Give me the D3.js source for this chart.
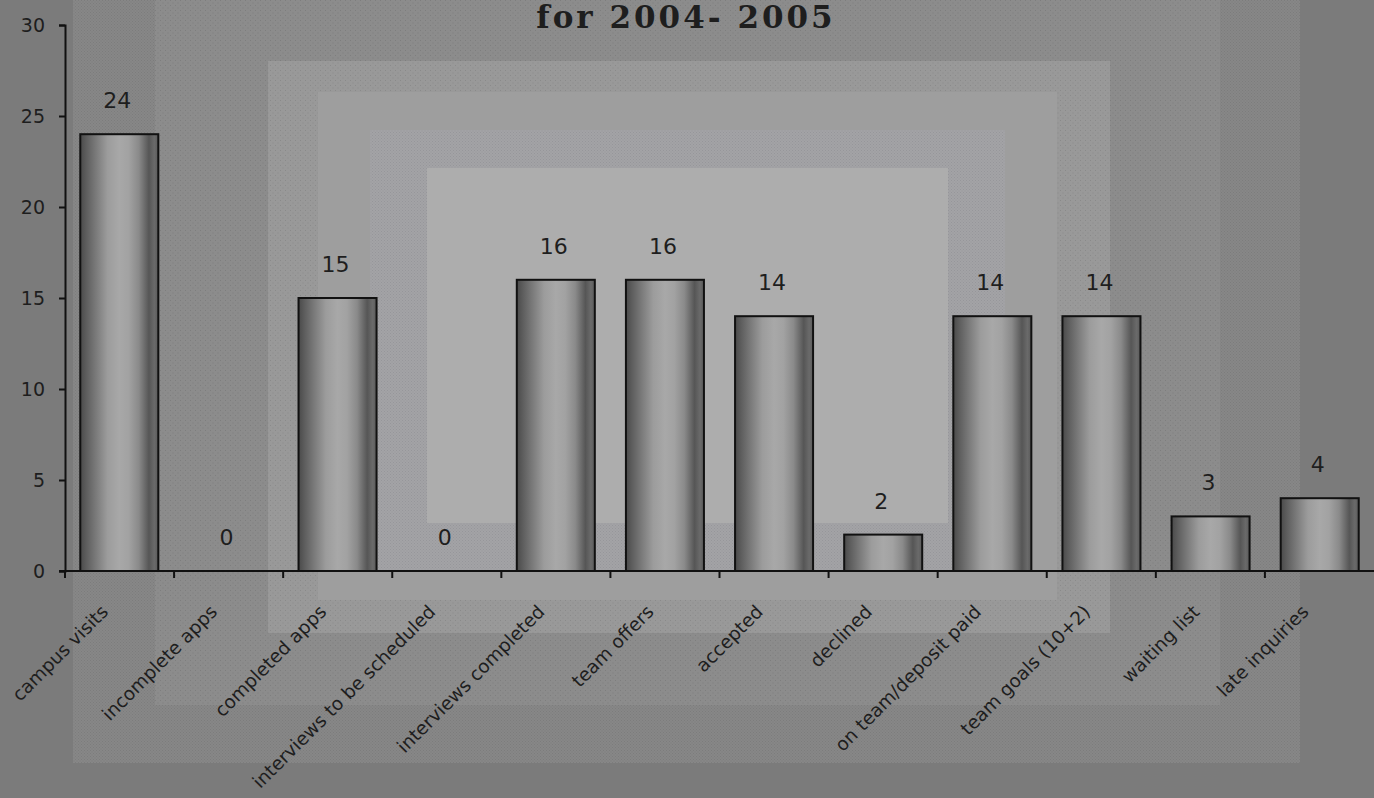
<!DOCTYPE html>
<html>
<head>
<meta charset="utf-8">
<script src="https://cdn.jsdelivr.net/npm/d3@7"></script>
<style>
  body { margin: 0; background: #7b7b7b; }
  svg { display: block; }
  text { font-family: "DejaVu Sans", sans-serif; fill: #1e1e1e; }
</style>
</head>
<body>
<div id="chart"></div>
<script>
// chart data
var categories = ["campus visits", "incomplete apps", "completed apps", "interviews to be scheduled",
  "interviews completed", "team offers", "accepted", "declined", "on team/deposit paid",
  "team goals (10+2)", "waiting list", "late inquiries"];
var values = [24, 0, 15, 0, 16, 16, 14, 2, 14, 14, 3, 4];
var yTicks = [0, 5, 10, 15, 20, 25, 30];
var title = "for 2004- 2005";

var width = 1374, height = 798;
var margin = {top: 25, left: 65, bottom: 227, right: 0};

var svg = d3.select("#chart").append("svg")
  .attr("width", width)
  .attr("height", height);

var defs = svg.append("defs");

// dotted textures for the background frames
function dots(id, bg, dot, size) {
  var p = defs.append("pattern").attr("id", id)
    .attr("width", size).attr("height", size)
    .attr("patternUnits", "userSpaceOnUse");
  p.append("rect").attr("width", size).attr("height", size).attr("fill", bg);
  p.append("rect").attr("x", 0).attr("y", 0).attr("width", 1).attr("height", 1).attr("fill", dot);
  p.append("rect").attr("x", size / 2).attr("y", size / 2).attr("width", 1).attr("height", 1).attr("fill", dot);
}
dots("t1", "#878787", "#7c7c7c", 3);
dots("t2", "#8c8c8c", "#7e7e7e", 5);
dots("t3", "#999999", "#8a8a8a", 5);
dots("t5", "#a3a3a6", "#96969a", 3);

var frames = [
  {x: 73, y: 0, w: 1227, h: 763, fill: "url(#t1)"},
  {x: 155, y: 0, w: 1065, h: 705, fill: "url(#t2)"},
  {x: 268, y: 61, w: 842, h: 572, fill: "url(#t3)"},
  {x: 318, y: 92, w: 739, h: 508, fill: "#9e9e9e"},
  {x: 370, y: 130, w: 635, h: 442, fill: "url(#t5)"},
  {x: 427, y: 168, w: 521, h: 355, fill: "#adadad"}
];
svg.selectAll("rect.frame").data(frames).enter().append("rect")
  .attr("class", "frame")
  .attr("x", function(d) { return d.x; })
  .attr("y", function(d) { return d.y; })
  .attr("width", function(d) { return d.w; })
  .attr("height", function(d) { return d.h; })
  .attr("fill", function(d) { return d.fill; });

// cylinder look for the bars
var grad = defs.append("linearGradient").attr("id", "cyl")
  .attr("x1", "0%").attr("x2", "100%").attr("y1", "0%").attr("y2", "0%");
[[0, "#4a4a4a"], [0.08, "#5e5e5e"], [0.2, "#7a7a7a"], [0.35, "#9c9c9c"], [0.5, "#a8a8a8"],
 [0.62, "#a2a2a2"], [0.75, "#8a8a8a"], [0.88, "#565656"], [0.95, "#6a6a6a"], [1, "#5a5a5a"]]
  .forEach(function(s) {
    grad.append("stop").attr("offset", s[0]).attr("stop-color", s[1]);
  });

var x = d3.scaleBand()
  .domain(categories)
  .range([margin.left, width - margin.right])
  .paddingInner(0.285)
  .paddingOuter(0.14);

var y = d3.scaleLinear()
  .domain([0, 30])
  .range([height - margin.bottom, margin.top]);

var g = svg.append("g");

g.selectAll("rect.bar").data(values).enter().append("rect")
  .attr("class", "bar")
  .attr("x", function(d, i) { return x(categories[i]); })
  .attr("y", function(d) { return y(d); })
  .attr("width", x.bandwidth())
  .attr("height", function(d) { return y(0) - y(d); })
  .attr("fill", "url(#cyl)")
  .attr("stroke", "#111")
  .attr("stroke-width", 2)
  .style("display", function(d) { return d > 0 ? null : "none"; });

g.selectAll("text.val").data(values).enter().append("text")
  .attr("class", "val")
  .attr("x", function(d, i) { return x(categories[i]) + x.bandwidth() / 2 - 2; })
  .attr("y", function(d) { return y(d) - 26; })
  .attr("text-anchor", "middle")
  .style("font-size", "22px")
  .text(function(d) { return d; });

// y axis
var yAxis = svg.append("g")
  .attr("transform", "translate(" + margin.left + ",0)")
  .call(d3.axisLeft(y).tickValues(yTicks).tickSize(6).tickPadding(14));
yAxis.selectAll("text").style("font-size", "19px").attr("fill", "#1e1e1e");
yAxis.select(".domain").attr("stroke", "#111").attr("stroke-width", 2);
yAxis.selectAll(".tick line").attr("stroke", "#111").attr("stroke-width", 2);

// x axis, ticks on band boundaries
var n = categories.length;
var xAxis = svg.append("g").attr("transform", "translate(0," + y(0) + ")");
xAxis.append("line")
  .attr("x1", margin.left - 6).attr("x2", width)
  .attr("stroke", "#111").attr("stroke-width", 2);
xAxis.selectAll("line.tick").data(categories).enter().append("line")
  .attr("class", "tick")
  .attr("x1", function(c, i) { return margin.left + i * (width - margin.left) / n; })
  .attr("x2", function(c, i) { return margin.left + i * (width - margin.left) / n; })
  .attr("y1", 0).attr("y2", 7)
  .attr("stroke", "#111").attr("stroke-width", 2);

xAxis.selectAll("text.lab").data(categories).enter().append("text")
  .attr("class", "lab")
  .attr("text-anchor", "end")
  .attr("transform", function(c) {
    var cx = x(c) + x.bandwidth() / 2 - 10;
    return "translate(" + cx + ",42) rotate(-45)";
  })
  .style("font-size", "18.5px")
  .text(function(c) { return c; });

svg.append("text")
  .attr("x", 686)
  .attr("y", 28)
  .attr("text-anchor", "middle")
  .style("font-family", "'DejaVu Serif', serif")
  .style("font-weight", "bold")
  .style("font-size", "31px")
  .style("letter-spacing", "3px")
  .text(title);
</script>
</body>
</html>
